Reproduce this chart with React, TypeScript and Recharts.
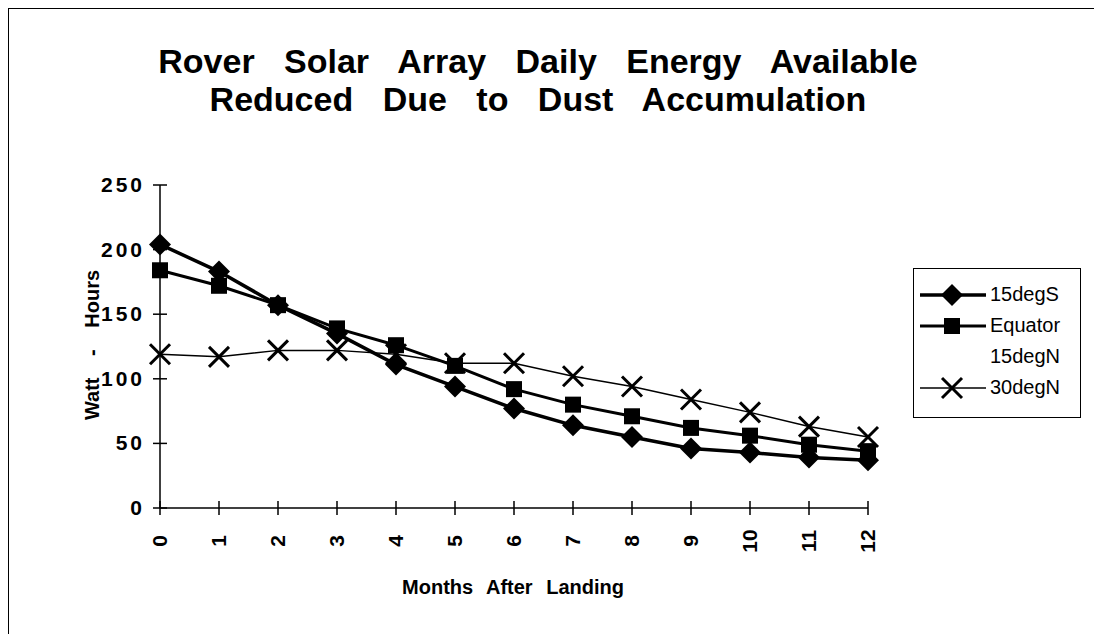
import React from "react";
import { LineChart, Line, XAxis, YAxis } from "recharts";

const months = [0, 1, 2, 3, 4, 5, 6, 7, 8, 9, 10, 11, 12];
const deg15S = [204, 183, 157, 135, 111, 94, 77, 64, 55, 46, 43, 39, 37];
const equator = [184, 172, 157, 139, 126, 110, 92, 80, 71, 62, 56, 49, 44];
const deg15N = [196, 178, 158, 134, 124, 109, 99, 89, 80, 72, 65, 58, 50];
const deg30N = [119, 117, 122, 122, 119, 112, 112, 102, 94, 84, 74, 63, 55];
const yTicks = [0, 50, 100, 150, 200, 250];

const data = months.map((m, i) => ({
  month: m,
  s15: deg15S[i],
  eq: equator[i],
  n15: deg15N[i],
  n30: deg30N[i],
}));

const FONT = "'Liberation Sans', Arial, sans-serif";

const Diamond = (props: any) => {
  const { cx, cy } = props;
  if (cx == null || cy == null) return null;
  const r = 11;
  return (
    <path
      d={`M${cx},${cy - r} L${cx + r},${cy} L${cx},${cy + r} L${cx - r},${cy} Z`}
      fill="#000"
    />
  );
};

const Square = (props: any) => {
  const { cx, cy } = props;
  if (cx == null || cy == null) return null;
  return <rect x={cx - 8} y={cy - 8} width={16} height={16} fill="#000" />;
};

const Cross = (props: any) => {
  const { cx, cy } = props;
  if (cx == null || cy == null) return null;
  const r = 10;
  return (
    <g stroke="#000" strokeWidth={3}>
      <line x1={cx - r} y1={cy - r} x2={cx + r} y2={cy + r} />
      <line x1={cx - r} y1={cy + r} x2={cx + r} y2={cy - r} />
    </g>
  );
};

const YTick = (props: any) => {
  const { x, y, payload } = props;
  return (
    <g>
      <line x1={x - 7} y1={y} x2={x + 7} y2={y} stroke="#000" strokeWidth={1.5} />
      <text
        x={x - 15}
        y={y + 7}
        textAnchor="end"
        fontFamily={FONT}
        fontWeight="bold"
        fontSize={21}
        letterSpacing={3}
        fill="#000"
      >
        {payload.value}
      </text>
    </g>
  );
};

const XTick = (props: any) => {
  const { x, y, payload } = props;
  const ty = y + 33;
  return (
    <g>
      <line x1={x} y1={y - 7} x2={x} y2={y + 7} stroke="#000" strokeWidth={1.5} />
      <text
        x={x + 7}
        y={ty}
        transform={`rotate(-90 ${x + 7} ${ty})`}
        textAnchor="middle"
        fontFamily={FONT}
        fontWeight="bold"
        fontSize={21}
        fill="#000"
      >
        {payload.value}
      </text>
    </g>
  );
};

const legendItems = [
  { name: "15degS", marker: "diamond", width: 3.5 },
  { name: "Equator", marker: "square", width: 3 },
  { name: "15degN", marker: "none", width: 0 },
  { name: "30degN", marker: "cross", width: 1.5 },
];

const LegendBox = () => (
  <div
    style={{
      border: "1.5px solid #000",
      width: 168,
      height: 150,
      boxSizing: "border-box",
      background: "#fff",
      fontFamily: FONT,
      fontSize: 20,
      paddingTop: 10,
    }}
  >
    {legendItems.map((it) => (
      <div key={it.name} style={{ display: "flex", alignItems: "center", height: 31 }}>
        <svg width={76} height={24} style={{ flex: "none" }}>
          {it.width > 0 && (
            <line x1={6} y1={12} x2={72} y2={12} stroke="#000" strokeWidth={it.width} />
          )}
          {it.marker === "diamond" && <Diamond cx={38} cy={12} />}
          {it.marker === "square" && <Square cx={38} cy={12} />}
          {it.marker === "cross" && <Cross cx={38} cy={12} />}
        </svg>
        <span>{it.name}</span>
      </div>
    ))}
  </div>
);

export default function App() {
  return (
    <div style={{ position: "relative", width: 1094, height: 626, fontFamily: FONT }}>
      <div
        style={{
          position: "absolute",
          left: 0,
          top: 0,
          width: 1094,
          height: 626,
          borderLeft: "1.5px solid #000",
          borderTop: "1.5px solid #000",
          boxSizing: "border-box",
        }}
      />
      <div
        style={{
          position: "absolute",
          left: 0,
          top: 34,
          width: 1060,
          textAlign: "center",
          fontWeight: "bold",
          fontSize: 34,
          lineHeight: "38px",
          wordSpacing: 20,
        }}
      >
        Rover Solar Array Daily Energy Available
        <br />
        Reduced Due to Dust Accumulation
      </div>
      <div
        style={{
          position: "absolute",
          left: 84,
          top: 337,
          transform: "translate(-50%, -50%) rotate(-90deg)",
          fontWeight: "bold",
          fontSize: 20,
          whiteSpace: "nowrap",
          wordSpacing: 16,
        }}
      >
        Watt - Hours
      </div>
      <div
        style={{
          position: "absolute",
          left: 352,
          top: 568,
          width: 306,
          textAlign: "center",
          fontWeight: "bold",
          fontSize: 20,
          wordSpacing: 8,
        }}
      >
        Months After Landing
      </div>
      <div style={{ position: "absolute", left: 0, top: 0 }}>
        <LineChart
          width={1094}
          height={626}
          data={data}
          margin={{ top: 177, left: 92, right: 234, bottom: 66 }}
        >
          <XAxis
            dataKey="month"
            type="number"
            domain={[0, 12]}
            ticks={months}
            height={60}
            axisLine={{ stroke: "#000", strokeWidth: 1.5 }}
            tickLine={false}
            tickSize={0}
            tickMargin={0}
            tick={<XTick />}
            interval={0}
          />
          <YAxis
            type="number"
            domain={[0, 250]}
            ticks={yTicks}
            width={60}
            axisLine={{ stroke: "#000", strokeWidth: 1.5 }}
            tickLine={false}
            tickSize={0}
            tickMargin={0}
            tick={<YTick />}
            interval={0}
          />
          <Line
            dataKey="n15"
            name="15degN"
            stroke="#fff"
            strokeWidth={1}
            dot={false}
            isAnimationActive={false}
          />
          <Line
            dataKey="s15"
            name="15degS"
            stroke="#000"
            strokeWidth={3.5}
            dot={<Diamond />}
            activeDot={false}
            isAnimationActive={false}
          />
          <Line
            dataKey="eq"
            name="Equator"
            stroke="#000"
            strokeWidth={3}
            dot={<Square />}
            activeDot={false}
            isAnimationActive={false}
          />
          <Line
            dataKey="n30"
            name="30degN"
            stroke="#000"
            strokeWidth={1.5}
            dot={<Cross />}
            activeDot={false}
            isAnimationActive={false}
          />
        </LineChart>
      </div>
      <div style={{ position: "absolute", left: 905, top: 260 }}>
        <LegendBox />
      </div>
    </div>
  );
}
